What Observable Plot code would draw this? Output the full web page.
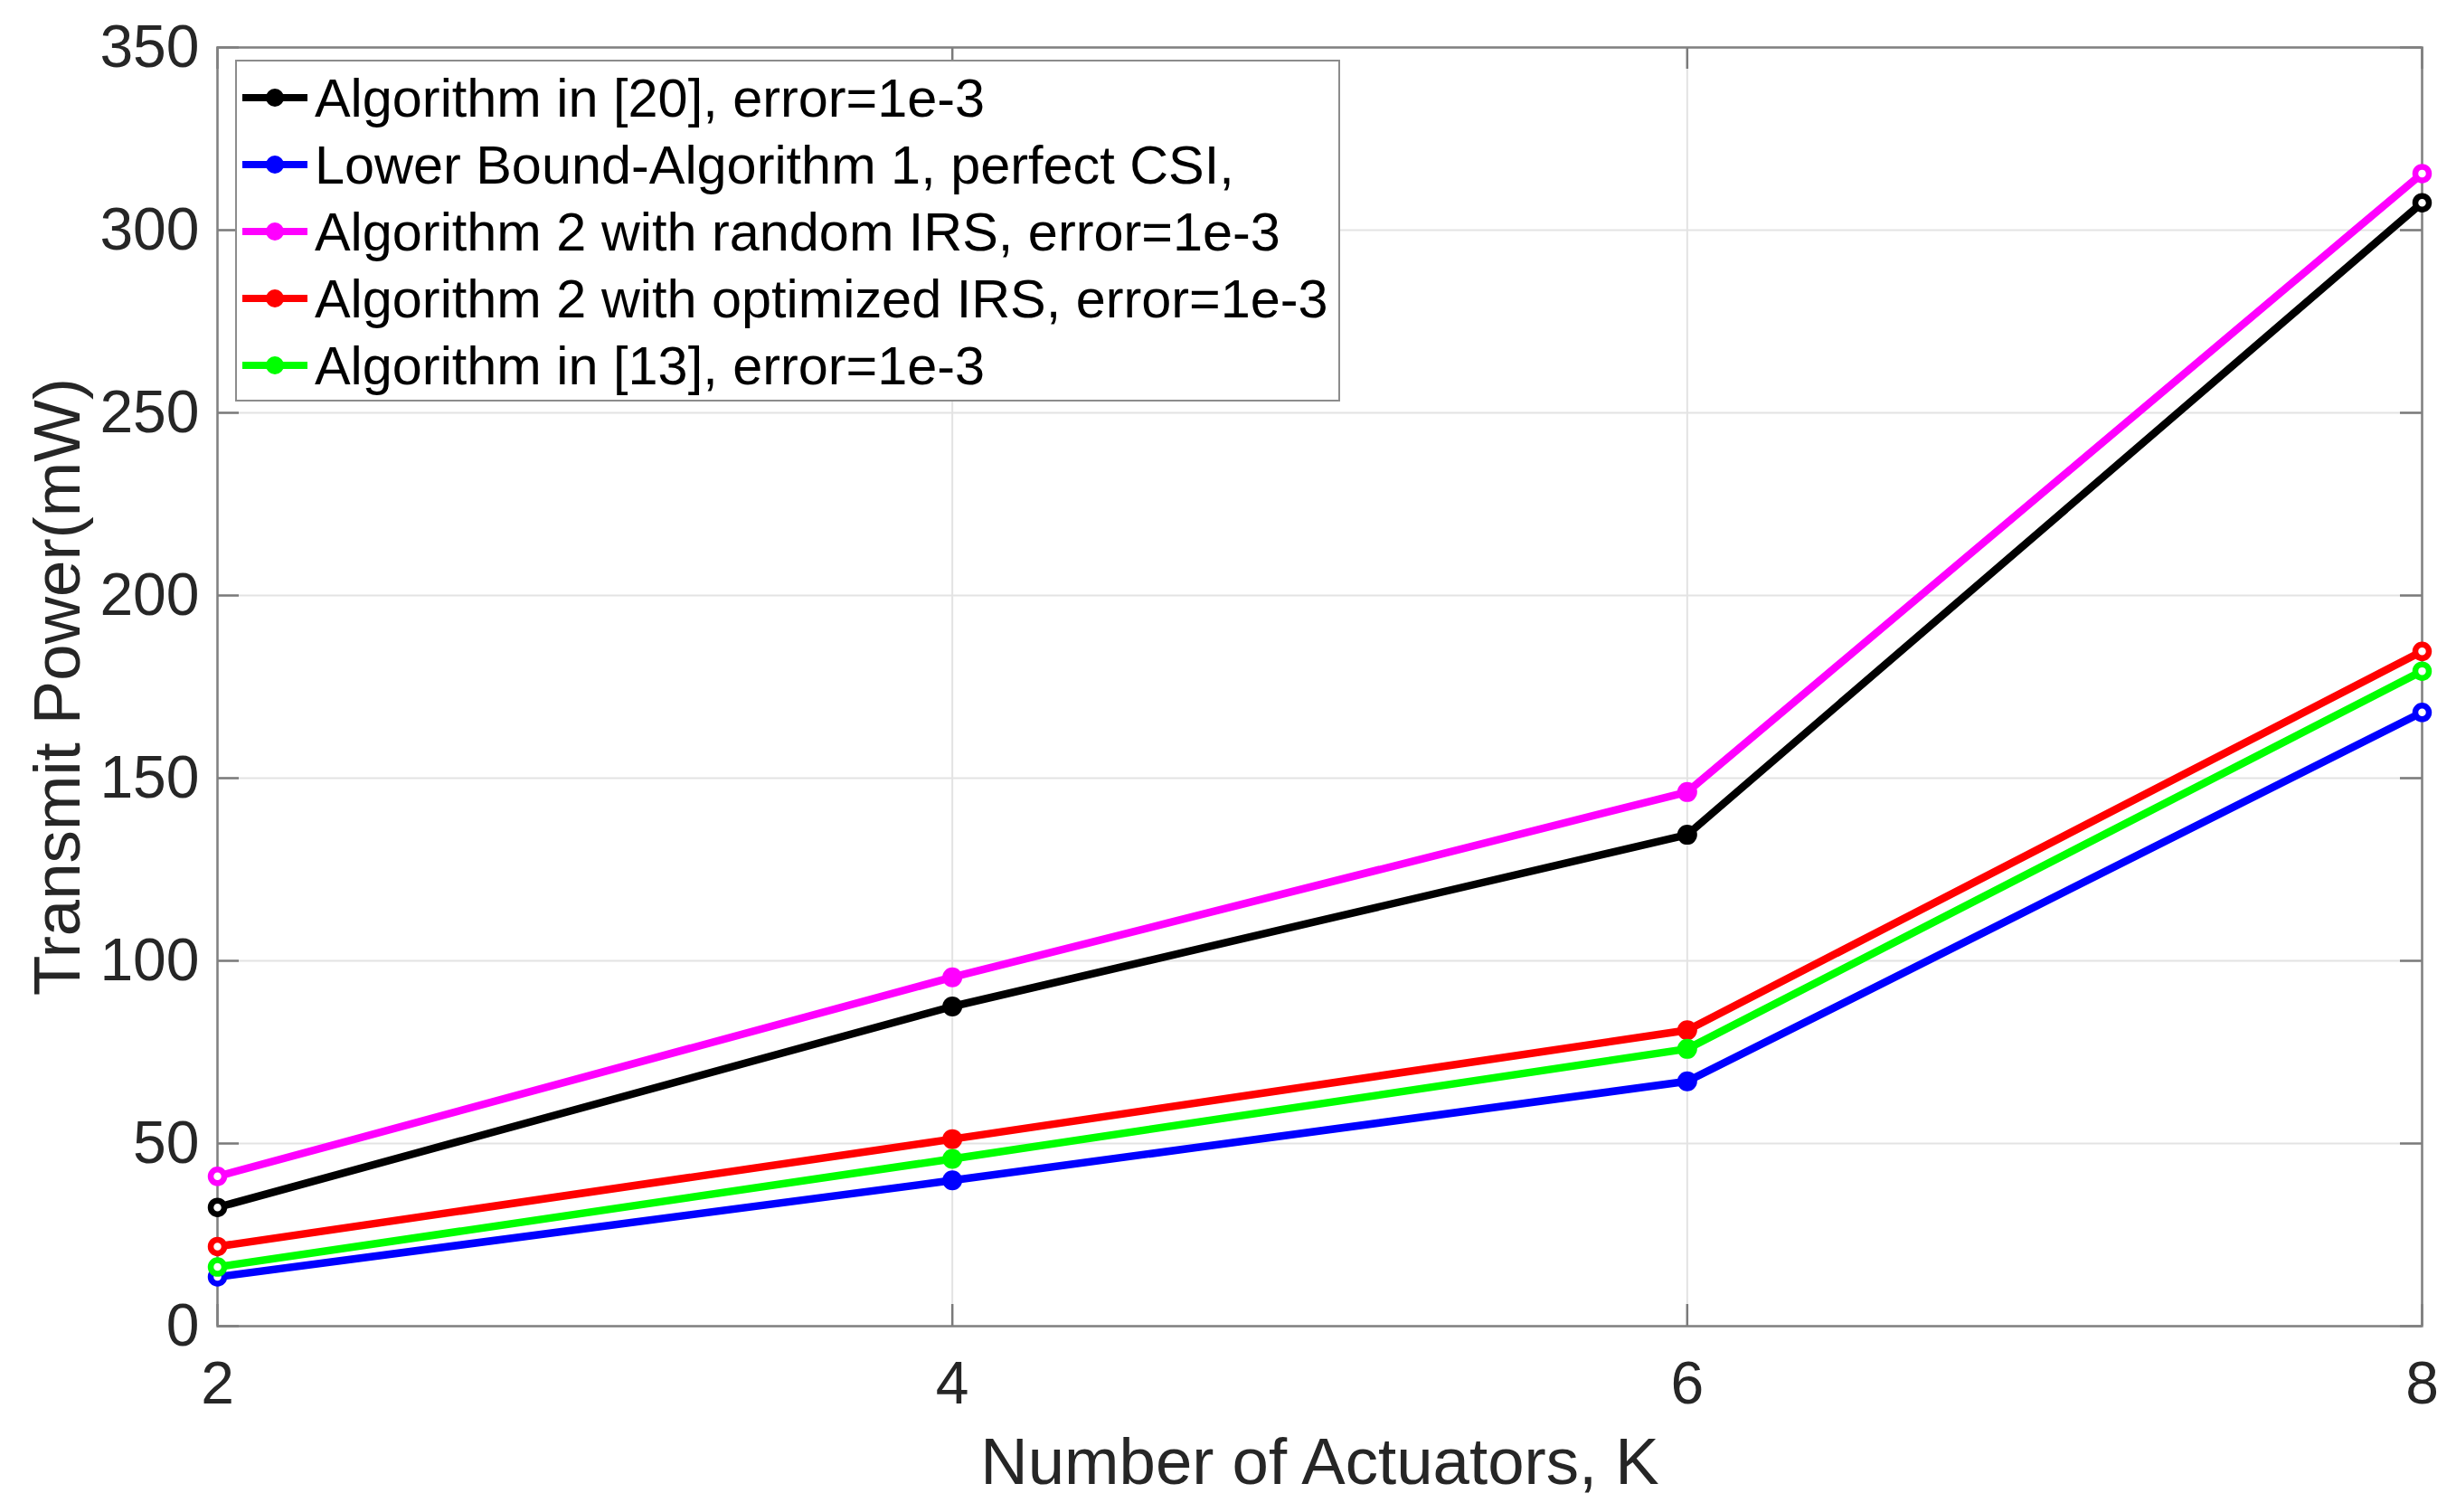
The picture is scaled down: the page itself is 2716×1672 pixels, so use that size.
<!DOCTYPE html>
<html><head><meta charset="utf-8">
<script src="https://cdn.jsdelivr.net/npm/d3@7"></script>
<script src="https://cdn.jsdelivr.net/npm/@observablehq/plot@0.6"></script>
<style>html,body{margin:0;padding:0;background:#fff;overflow:hidden;} svg{display:block}</style>
</head><body><div id="chart"></div>
<script>
// ---- data ----
const K = [2, 4, 6, 8];
const seriesNames = [
  "Algorithm in [20], error=1e-3",
  "Lower Bound-Algorithm 1, perfect CSI,",
  "Algorithm 2 with random IRS, error=1e-3",
  "Algorithm 2 with optimized IRS, error=1e-3",
  "Algorithm in [13], error=1e-3"
];
const alg20 = [32.5, 87.5, 134.5, 307.5];
const lowerBound = [13.5, 39.9, 67.0, 168.0];
const randomIRS = [41.0, 95.5, 146.2, 315.5];
const optimizedIRS = [21.8, 51.2, 81.0, 184.7];
const alg13 = [16.2, 45.8, 75.9, 179.3];
const xTicks = [2, 4, 6, 8];
const yTicks = [0, 50, 100, 150, 200, 250, 300, 350];
const xLabel = "Number of Actuators, K";
const yLabel = "Transmit Power(mW)";

// ---- styles ----
const seriesColors = ["#000000", "#0000ff", "#ff00ff", "#ff0000", "#00ff00"];
const W = 2716, H = 1672, mL = 240, mR = 38, mT = 52, mB = 206;
const innerW = W - mL - mR, innerH = H - mT - mB;
const tickLen = 24;
const font = "'Liberation Sans', Arial, Helvetica, sans-serif";

const allValues = [alg20, lowerBound, randomIRS, optimizedIRS, alg13];
const rows = allValues.flatMap((vals, s) => vals.map((v, i) => ({K: K[i], P: v, series: seriesNames[s], idx: i})));

const seriesMarks = seriesNames.flatMap(name => {
  const d = rows.filter(r => r.series === name);
  const inner = d.filter(r => r.idx !== 0 && r.idx !== K.length - 1);
  const edge = d.filter(r => r.idx === 0 || r.idx === K.length - 1);
  return [
    Plot.line(d, {x: "K", y: "P", stroke: "series", strokeWidth: 8.5, strokeLinejoin: "round"}),
    Plot.dot(inner, {x: "K", y: "P", fill: "series", r: 11}),
    Plot.dot(edge, {x: "K", y: "P", stroke: "series", fill: "white", r: 7.5, strokeWidth: 6.5})
  ];
});

const gridStyle = {stroke: "#e3e3e3", strokeOpacity: 1, strokeWidth: 2};
const tickStyle = {stroke: "#7a7a7a", strokeWidth: 2.5, strokeOpacity: 1};

const svg = Plot.plot({
  width: W, height: H,
  marginLeft: mL, marginRight: mR, marginTop: mT, marginBottom: mB,
  style: {fontFamily: font, background: "#fff"},
  x: {domain: [2, 8]},
  y: {domain: [0, 350]},
  color: {domain: seriesNames, range: seriesColors},
  marks: [
    Plot.gridX(xTicks, gridStyle),
    Plot.gridY(yTicks, gridStyle),
    Plot.tickY(yTicks, {y: d => d, insetRight: innerW - tickLen, ...tickStyle}),
    Plot.tickY(yTicks, {y: d => d, insetLeft: innerW - tickLen, ...tickStyle}),
    Plot.tickX(xTicks, {x: d => d, insetTop: innerH - tickLen, ...tickStyle}),
    Plot.tickX(xTicks, {x: d => d, insetBottom: innerH - tickLen, ...tickStyle}),
    Plot.frame({stroke: "#808080", strokeWidth: 2.5}),
    Plot.axisX(xTicks, {tickSize: 0, tickPadding: 39, fontSize: 66, fill: "#262626", label: null, tickFormat: d => String(d)}),
    Plot.axisY(yTicks, {tickSize: 0, tickPadding: 20, fontSize: 66, fill: "#262626", label: null, tickFormat: d => String(d)}),
    ...seriesMarks,
    Plot.text([xLabel], {text: d => d, frameAnchor: "bottom", textAnchor: "middle", lineAnchor: "bottom", dy: 174, fontSize: 72.6, fill: "#262626"}),
    Plot.text([yLabel], {text: d => d, frameAnchor: "left", textAnchor: "middle", lineAnchor: "middle", rotate: -90, dx: -176, fontSize: 72.6, fill: "#262626"})
  ]
});

// ---- legend ----
const sel = d3.select(svg);
const lg = sel.append("g").attr("font-family", font).attr("text-anchor", "start");
lg.append("rect").attr("x", 261).attr("y", 67).attr("width", 1220).attr("height", 376)
  .attr("fill", "#fff").attr("stroke", "#8c8c8c").attr("stroke-width", 2);
seriesNames.forEach((name, i) => {
  const cy = 108 + 74 * i;
  lg.append("line").attr("x1", 268).attr("x2", 340).attr("y1", cy).attr("y2", cy)
    .attr("stroke", seriesColors[i]).attr("stroke-width", 8);
  lg.append("circle").attr("cx", 304).attr("cy", cy).attr("r", 10).attr("fill", seriesColors[i]);
  lg.append("text").attr("x", 348).attr("y", cy).attr("dy", "0.35em")
    .attr("text-anchor", "start")
    .attr("font-size", 59.4).attr("fill", "#000").text(name);
});

document.getElementById("chart").appendChild(svg);
</script>
</body></html>
